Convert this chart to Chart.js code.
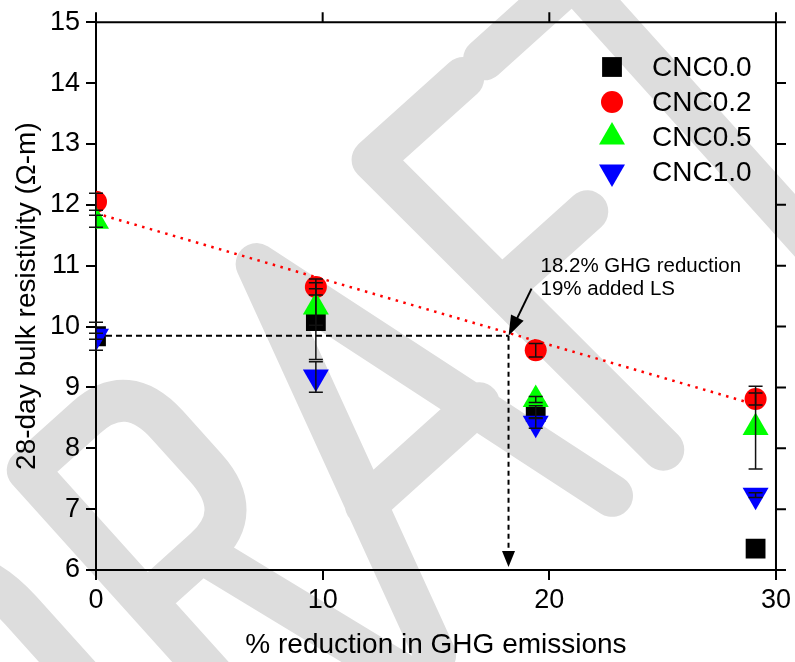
<!DOCTYPE html>
<html>
<head>
<meta charset="utf-8">
<script src="https://cdn.jsdelivr.net/npm/chart.js@4.4.0/dist/chart.umd.min.js"></script>
<style>
  html, body { margin: 0; padding: 0; background: #fff; }
  #wrap { width: 795px; height: 662px; }
</style>
</head>
<body>
<div id="wrap"><canvas id="chart" width="795" height="662"></canvas></div>
<script>
// values
var ghgReduction = [0, 9.7, 19.4, 29.1];

var cnc00 = [9.84, 10.09, 8.6, 6.35];
var cnc00Err = [0.23, 0.63, 0.1, 0];
var cnc02 = [12.05, 10.65, 9.61, 8.81];
var cnc02Err = [0.14, 0.13, 0.11, 0.1];
var cnc05 = [11.73, 10.32, 8.8, 8.34];
var cnc05Err = [0.1, 0.3, 0.05, 0.68];
var cnc10 = [9.84, 9.17, 8.41, 7.23];
var cnc10Err = [0.05, 0.25, 0.08, 0.04];

// red dotted trend line (two end points)
var trendX = [0, 28.8];
var trendY = [11.86, 8.75];

// 18.2% GHG reduction guide
var guideX = 18.2;
var guideY = 9.85;

var xTicks = [0, 10, 20, 30];
var yTicks = [6, 7, 8, 9, 10, 11, 12, 13, 14, 15];

var FONT = '"Liberation Sans", Arial, sans-serif';

function pts(xs, ys) {
    return xs.map(function(x, i) { return { x: x, y: ys[i] }; });
}

// monoline DRAFT stamp, drawn in a frame turned 42 deg, behind everything
var watermark = {
    id: 'watermark',
    beforeDraw: function(chart) {
        var ctx = chart.ctx;
        var T = 368, B = 778;
        ctx.save();
        ctx.rotate(-42 * Math.PI / 180);
        ctx.strokeStyle = '#dddddd';
        ctx.lineWidth = 42;
        ctx.lineCap = 'round';
        ctx.lineJoin = 'round';
        ctx.beginPath();
        // D
        ctx.moveTo(-600, T); ctx.lineTo(-490, T);
        ctx.quadraticCurveTo(-393, T, -393, T + 100);
        ctx.lineTo(-393, B - 100);
        ctx.quadraticCurveTo(-393, B, -490, B);
        ctx.lineTo(-600, B); ctx.closePath();
        // R
        ctx.moveTo(-294, B); ctx.lineTo(-294, T); ctx.lineTo(-215, T);
        ctx.quadraticCurveTo(-160, T, -160, T + 60);
        ctx.lineTo(-160, 485);
        ctx.quadraticCurveTo(-160, 545, -215, 545);
        ctx.lineTo(-294, 545);
        ctx.moveTo(-220, 545); ctx.lineTo(-150, B);
        // A
        ctx.moveTo(-115, B); ctx.lineTo(14, T); ctx.lineTo(123, B);
        ctx.moveTo(-66, 620); ctx.lineTo(86, 620);
        // F
        ctx.moveTo(192, B); ctx.lineTo(170, T); ctx.lineTo(292, T);
        ctx.moveTo(182, 550); ctx.lineTo(295, 550);
        // T
        ctx.moveTo(320, T); ctx.lineTo(560, T);
        ctx.moveTo(440, T); ctx.lineTo(440, B);
        ctx.stroke();
        ctx.restore();
    }
};

var errorBars = {
    id: 'errorBars',
    afterDatasetsDraw: function(chart) {
        var ctx = chart.ctx;
        var xs = chart.scales.x, ys = chart.scales.y;
        ctx.save();
        ctx.strokeStyle = '#111';
        ctx.lineWidth = 1.5;
        chart.data.datasets.forEach(function(ds) {
            if (!ds.err) return;
            ds.data.forEach(function(p, i) {
                var e = ds.err[i];
                if (!e) return;
                var px = xs.getPixelForValue(p.x);
                var top = ys.getPixelForValue(p.y + e);
                var bot = ys.getPixelForValue(p.y - e);
                ctx.beginPath();
                ctx.moveTo(px, top); ctx.lineTo(px, bot);
                ctx.moveTo(px - 7, top); ctx.lineTo(px + 7, top);
                ctx.moveTo(px - 7, bot); ctx.lineTo(px + 7, bot);
                ctx.stroke();
            });
        });
        ctx.restore();
    }
};

function arrowHead(ctx, tx, ty, angle, len, half) {
    ctx.save();
    ctx.translate(tx, ty);
    ctx.rotate(angle);
    ctx.beginPath();
    ctx.moveTo(0, 0);
    ctx.lineTo(-len, -half);
    ctx.lineTo(-len, half);
    ctx.closePath();
    ctx.fill();
    ctx.restore();
}

var annotations = {
    id: 'annotations',
    afterDatasetsDraw: function(chart) {
        var ctx = chart.ctx;
        var xs = chart.scales.x, ys = chart.scales.y;
        var gx = xs.getPixelForValue(guideX);
        var gy = ys.getPixelForValue(guideY);
        ctx.save();
        ctx.fillStyle = '#000';
        ctx.strokeStyle = '#000';
        // arrow head at the bottom of the vertical guide
        arrowHead(ctx, gx, ys.getPixelForValue(6.05), Math.PI / 2, 16, 6.5);
        // pointer from the label to the guide corner
        var sx = gx + 23, sy = gy - 47;
        ctx.lineWidth = 2;
        ctx.beginPath();
        ctx.moveTo(sx, sy);
        ctx.lineTo(gx + 6, gy - 12);
        ctx.stroke();
        arrowHead(ctx, gx, gy, Math.atan2(gy - sy, gx - sx), 20, 7);
        ctx.font = '20.5px ' + FONT;
        ctx.textAlign = 'left';
        ctx.textBaseline = 'alphabetic';
        ctx.fillText('18.2% GHG reduction', gx + 32, gy - 64);
        ctx.fillText('19% added LS', gx + 32, gy - 41);
        ctx.restore();
    }
};

// top and right axes of the box, ticks pointing out
var frame = {
    id: 'frame',
    afterDraw: function(chart) {
        var ctx = chart.ctx, a = chart.chartArea;
        var xs = chart.scales.x, ys = chart.scales.y;
        ctx.save();
        ctx.strokeStyle = '#000';
        ctx.lineWidth = 2;
        ctx.beginPath();
        ctx.moveTo(a.left - 1, a.top); ctx.lineTo(a.right + 1, a.top);
        ctx.moveTo(a.right, a.top); ctx.lineTo(a.right, a.bottom);
        xTicks.forEach(function(v) {
            var px = xs.getPixelForValue(v);
            ctx.moveTo(px, a.top); ctx.lineTo(px, a.top - 10);
        });
        yTicks.forEach(function(v) {
            var py = ys.getPixelForValue(v);
            ctx.moveTo(a.right, py); ctx.lineTo(a.right + 10, py);
        });
        ctx.stroke();
        ctx.restore();
    }
};

var legendBox = {
    id: 'legendBox',
    afterDraw: function(chart) {
        var ctx = chart.ctx;
        var rows = [67, 102, 137, 172];
        ctx.save();
        ctx.font = '28px ' + FONT;
        ctx.textBaseline = 'middle';
        ctx.textAlign = 'left';
        var k = 0;
        chart.data.datasets.forEach(function(ds) {
            if (!ds.inLegend) return;
            var y = rows[k++];
            ctx.fillStyle = ds.backgroundColor;
            ctx.strokeStyle = ds.backgroundColor;
            Chart.helpers.drawPoint(ctx, {
                pointStyle: ds.pointStyle,
                radius: ds.pointRadius,
                rotation: ds.pointRotation || 0,
                borderWidth: 0
            }, 612, y);
            ctx.fillStyle = '#000';
            ctx.fillText(ds.label, 652, y + 1);
        });
        ctx.restore();
    }
};

function markerSet(label, ys, err, color, style, radius, order, rot) {
    return {
        label: label,
        data: pts(ghgReduction, ys),
        err: err,
        inLegend: true,
        pointStyle: style,
        pointRadius: radius,
        pointHoverRadius: radius,
        pointRotation: rot || 0,
        backgroundColor: color,
        borderColor: color,
        pointBorderWidth: 0,
        showLine: false,
        order: order
    };
}

var datasets = [
    markerSet('CNC0.0', cnc00, cnc00Err, '#000000', 'rect', 14, 4),
    markerSet('CNC0.2', cnc02, cnc02Err, '#ff0000', 'circle', 11, 3),
    markerSet('CNC0.5', cnc05, cnc05Err, '#00ff00', 'triangle', 15, 2),
    markerSet('CNC1.0', cnc10, cnc10Err, '#0000ff', 'triangle', 15, 1, 180),
    {
        label: 'trend',
        data: pts(trendX, trendY),
        showLine: true,
        borderColor: '#ff0000',
        borderWidth: 2.5,
        borderDash: [2.5, 5.5],
        pointRadius: 0,
        order: 8
    },
    {
        label: 'guideH',
        data: [{ x: 0, y: guideY }, { x: guideX, y: guideY }],
        showLine: true,
        borderColor: '#000',
        borderWidth: 2,
        borderDash: [6, 4],
        pointRadius: 0,
        order: 9
    },
    {
        label: 'guideV',
        data: [{ x: guideX, y: guideY }, { x: guideX, y: 6.3 }],
        showLine: true,
        borderColor: '#000',
        borderWidth: 2,
        borderDash: [5, 4],
        pointRadius: 0,
        order: 9
    }
];

var ctx = document.getElementById('chart').getContext('2d');

new Chart(ctx, {
    type: 'scatter',
    data: { datasets: datasets },
    plugins: [watermark, errorBars, annotations, frame, legendBox],
    options: {
        responsive: false,
        animation: false,
        layout: { padding: { top: 22, right: 17, left: 0, bottom: 0 } },
        plugins: {
            legend: { display: false },
            tooltip: { enabled: false }
        },
        scales: {
            x: {
                type: 'linear',
                min: 0,
                max: 30,
                afterFit: function(s) { s.height = 92; },
                afterBuildTicks: function(s) { s.ticks = xTicks.map(function(v) { return { value: v }; }); },
                grid: { drawOnChartArea: false, drawTicks: true, tickLength: 10, color: '#000', lineWidth: 2 },
                border: { color: '#000', width: 2 },
                ticks: { color: '#000', font: { family: FONT, size: 27 }, padding: 4, maxRotation: 0 },
                title: {
                    display: true,
                    text: '% reduction in GHG emissions',
                    color: '#000',
                    font: { family: FONT, size: 28 },
                    padding: { top: 6, bottom: 0 }
                }
            },
            y: {
                type: 'linear',
                min: 6,
                max: 15,
                afterFit: function(s) { s.width = 96; },
                afterBuildTicks: function(s) { s.ticks = yTicks.map(function(v) { return { value: v }; }); },
                grid: { drawOnChartArea: false, drawTicks: true, tickLength: 10, color: '#000', lineWidth: 2 },
                border: { color: '#000', width: 2 },
                ticks: { color: '#000', font: { family: FONT, size: 27 }, padding: 6 },
                title: {
                    display: true,
                    text: '28-day bulk resistivity (\u03a9-m)',
                    color: '#000',
                    font: { family: FONT, size: 28 },
                    padding: { top: 10, bottom: 0 }
                }
            }
        }
    }
});
</script>
</body>
</html>
